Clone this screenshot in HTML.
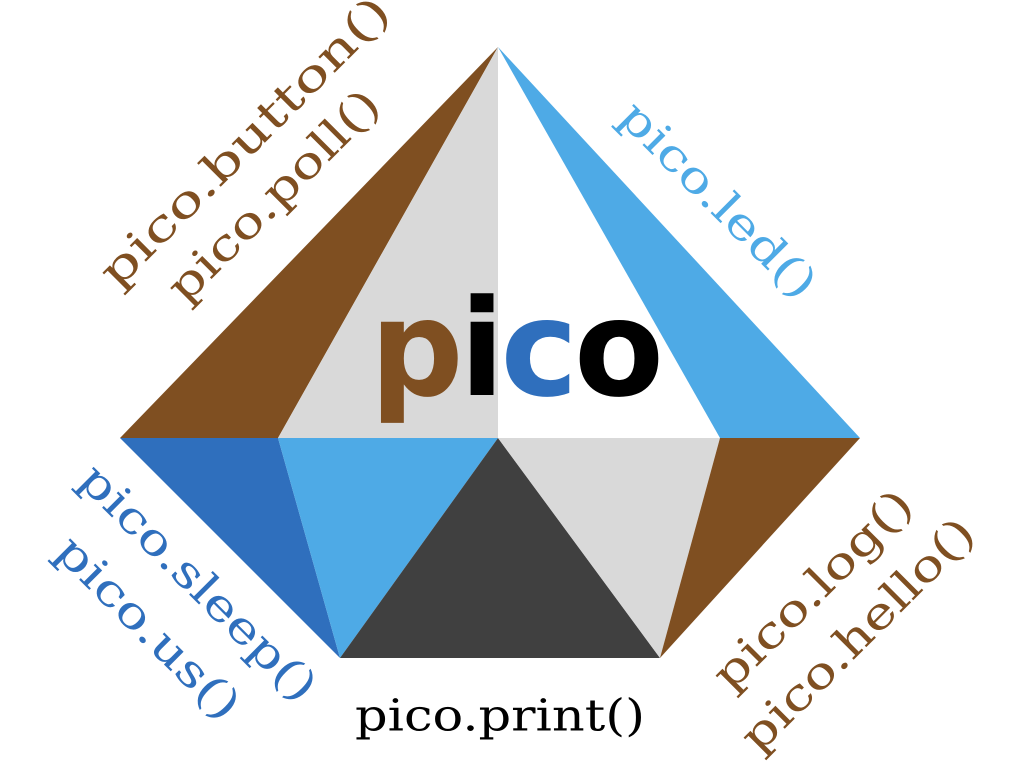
<!DOCTYPE html>
<html><head><meta charset="utf-8"><style>html,body{margin:0;padding:0;background:#fff}</style></head>
<body>
<svg width="1016" height="772" viewBox="0 0 1016 772">
<g>
<polygon points="498,47 120,438 278,438" fill="#7f4f21"/>
<polygon points="498,47 278,438 498,438" fill="#d9d9d9"/>
<polygon points="498,47 498,438 720,438" fill="#ffffff"/>
<polygon points="498,47 720,438 860,438" fill="#4eaae6"/>
<polygon points="120,438 278,438 340,658" fill="#2f6fbd"/>
<polygon points="278,438 498,438 340,658" fill="#4eaae6"/>
<polygon points="498,438 340,658 660,658" fill="#404040"/>
<polygon points="498,438 720,438 660,658" fill="#d9d9d9"/>
<polygon points="720,438 860,438 660,658" fill="#7f4f21"/>
</g>
<text x="515" y="395" text-anchor="middle" font-family="'DejaVu Sans','Liberation Sans',sans-serif" font-weight="bold" font-size="134" letter-spacing="-4" textLength="290" lengthAdjust="spacingAndGlyphs"><tspan fill="#7f4f21">p</tspan><tspan fill="#000">i</tspan><tspan fill="#2f6fbd">c</tspan><tspan fill="#000">o</tspan></text>
<g font-family="'DejaVu Serif','Liberation Serif',serif" font-size="44" text-anchor="middle" dominant-baseline="central" lengthAdjust="spacingAndGlyphs">
<text fill="#7f4f21" transform="translate(245,142) rotate(-45)" textLength="390" lengthAdjust="spacingAndGlyphs">pico.button()</text>
<text fill="#7f4f21" transform="translate(274,196) rotate(-45)" textLength="280" lengthAdjust="spacingAndGlyphs">pico.poll()</text>
<text fill="#4eaae6" transform="translate(718,200) rotate(45)" textLength="258" lengthAdjust="spacingAndGlyphs">pico.led()</text>
<text fill="#2f6fbd" transform="translate(198,583) rotate(45)" textLength="315" lengthAdjust="spacingAndGlyphs">pico.sleep()</text>
<text fill="#2f6fbd" transform="translate(148,628) rotate(45)" textLength="240" lengthAdjust="spacingAndGlyphs">pico.us()</text>
<text fill="#7f4f21" transform="translate(813,590) rotate(-45)" textLength="262" lengthAdjust="spacingAndGlyphs">pico.log()</text>
<text fill="#7f4f21" transform="translate(858,635) rotate(-45)" textLength="310" lengthAdjust="spacingAndGlyphs">pico.hello()</text>
<text fill="#000" x="500" y="716" textLength="290" lengthAdjust="spacingAndGlyphs">pico.print()</text>
</g>
</svg>
</body></html>
